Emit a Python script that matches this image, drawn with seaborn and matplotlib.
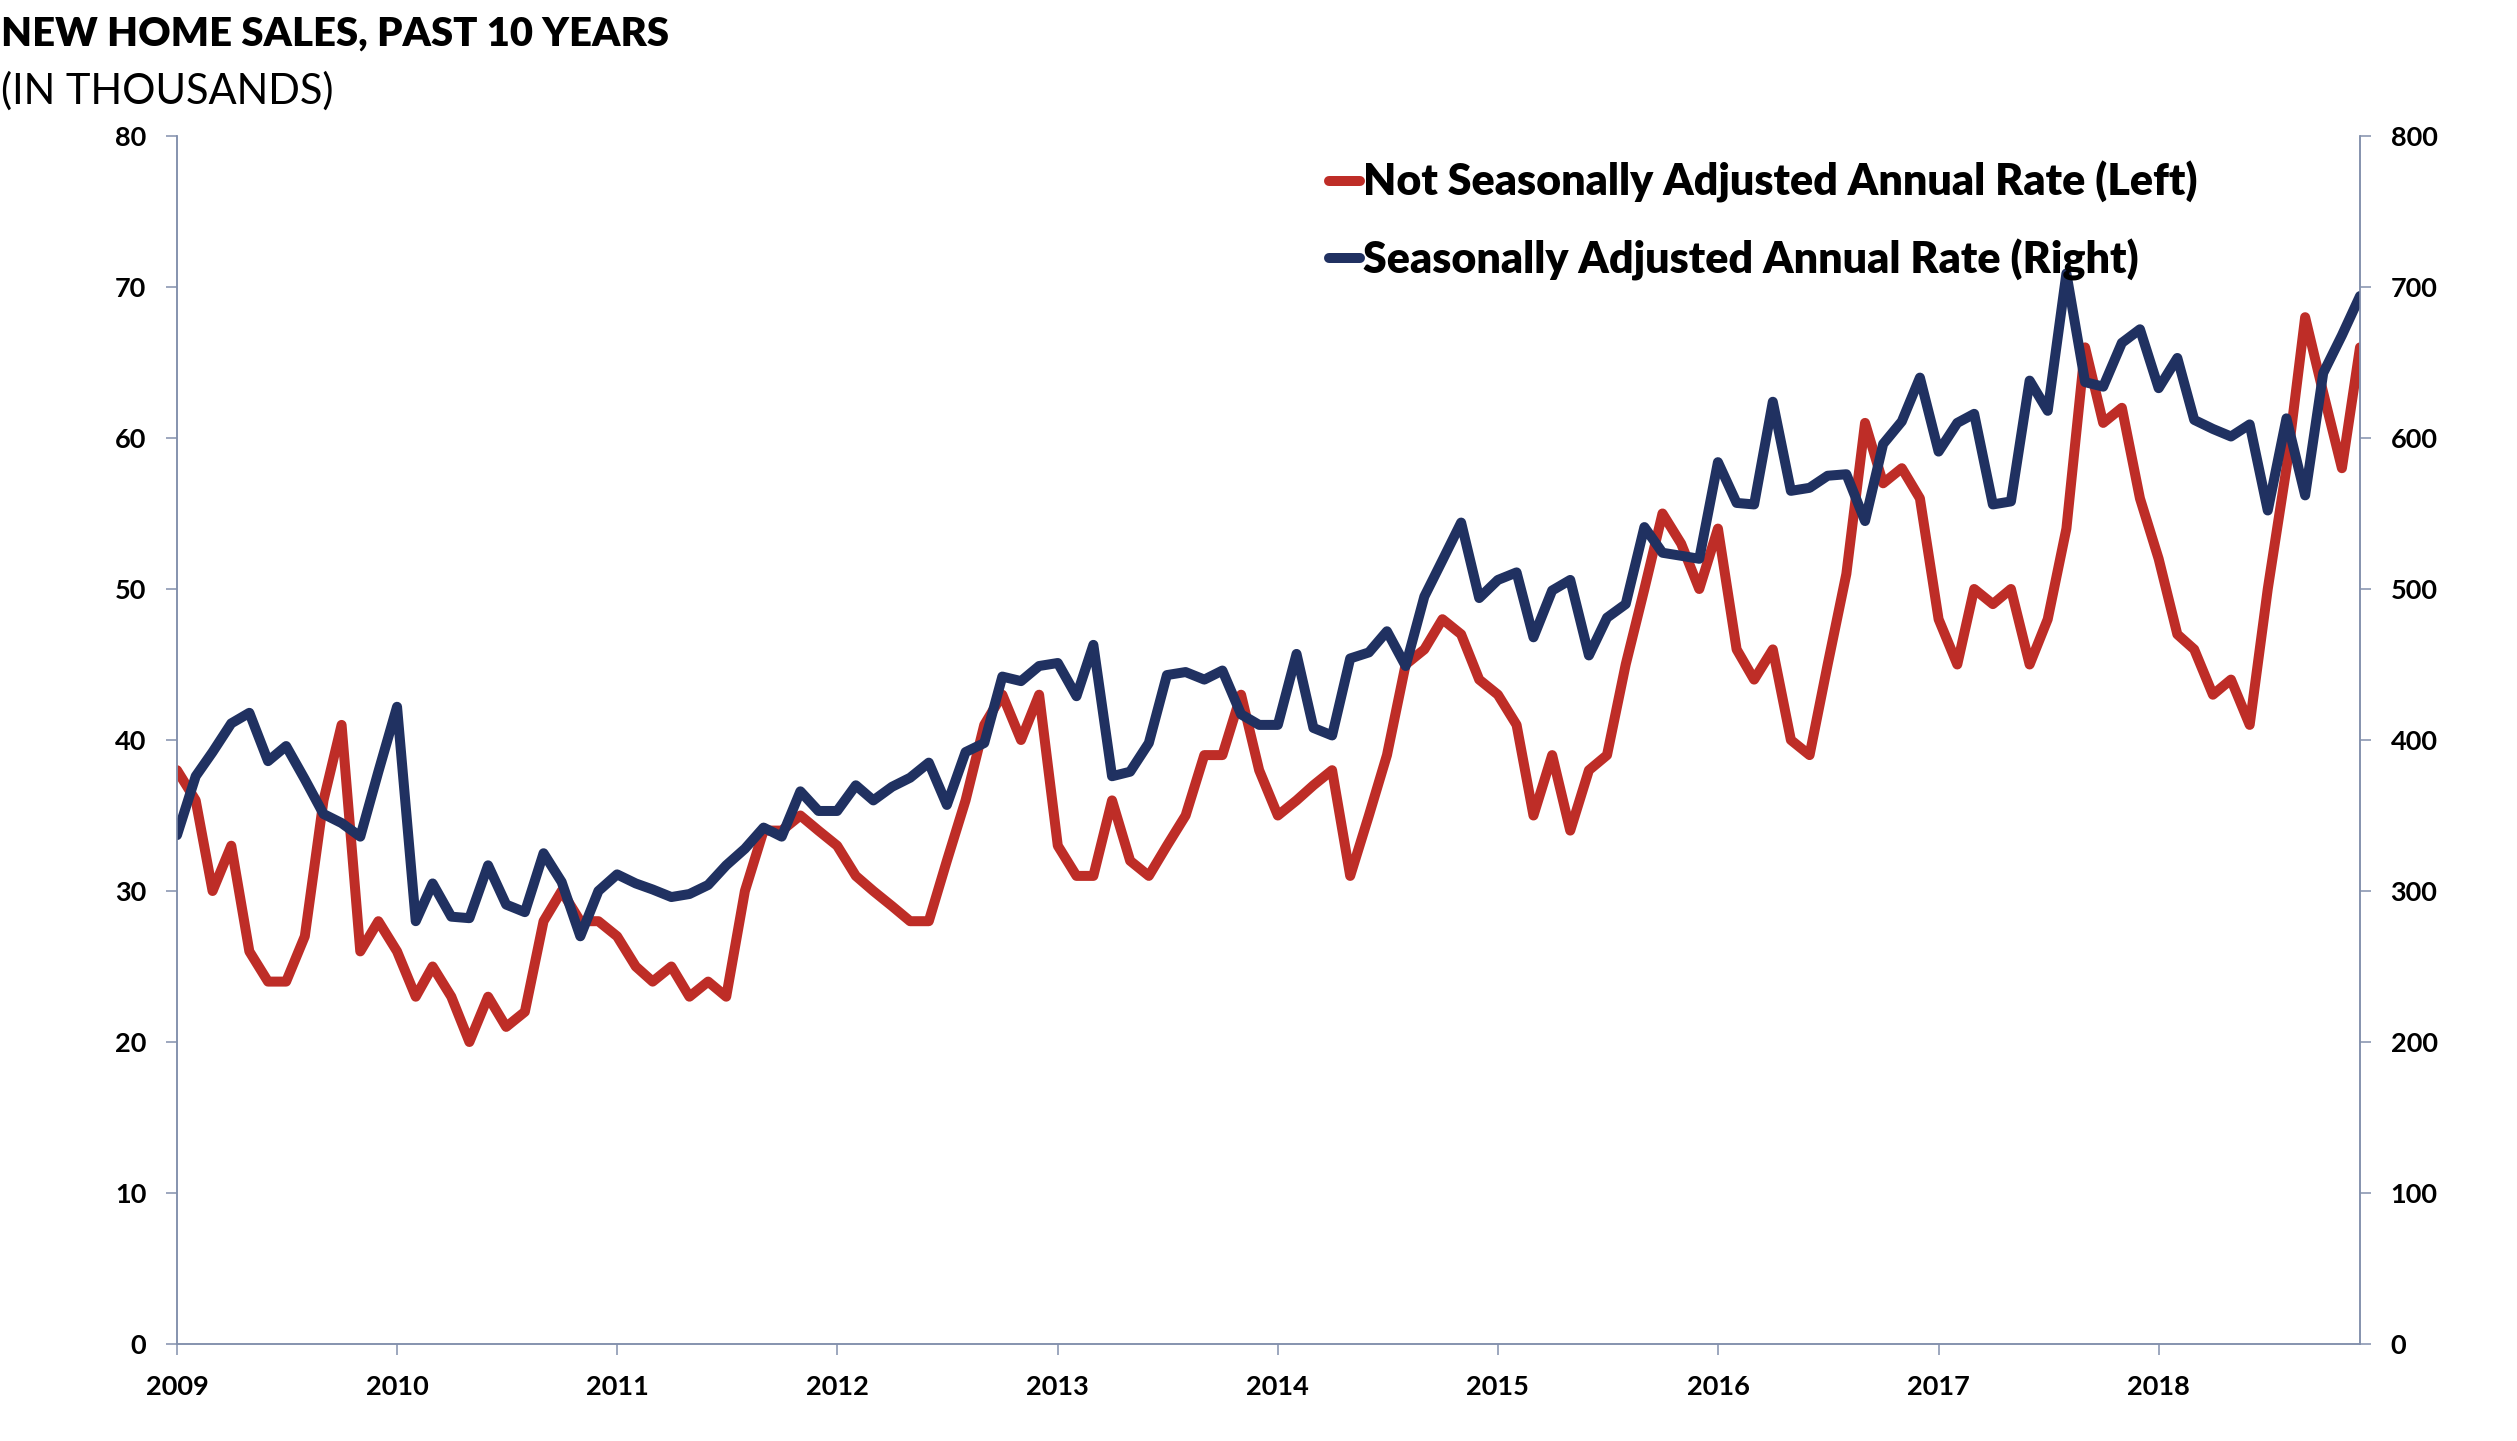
import matplotlib
matplotlib.use("Agg")
import matplotlib.pyplot as plt
import matplotlib.dates as mdates
from matplotlib.lines import Line2D
import pandas as pd
import seaborn as sns

# monthly data, Jan 2009 - Dec 2018
months = pd.date_range("2009-01-01", "2018-12-01", freq="MS")

# not seasonally adjusted, thousands (left axis)
nsa_left = [
    38, 36, 30, 33, 26, 24, 24, 27, 36, 41, 26, 28,
    26, 23, 25, 23, 20, 23, 21, 22, 28, 30, 28, 28,
    27, 25, 24, 25, 23, 24, 23, 30, 34, 34, 35, 34,
    33, 31, 30, 29, 28, 28, 32, 36, 41, 43, 40, 43,
    33, 31, 31, 36, 32, 31, 33, 35, 39, 39, 43, 38,
    35, 36, 37, 38, 31, 35, 39, 45, 46, 48, 47, 44,
    43, 41, 35, 39, 34, 38, 39, 45, 50, 55, 53, 50,
    54, 46, 44, 46, 40, 39, 45, 51, 61, 57, 58, 56,
    48, 45, 50, 49, 50, 45, 48, 54, 66, 61, 62, 56,
    52, 47, 46, 43, 44, 41, 50, 58, 68, 63, 58, 66,
]

# seasonally adjusted annual rate, thousands (right axis)
sa_right = [
    337, 376, 392, 411, 418, 386, 396, 374, 351, 345, 336, 379,
    422, 280, 305, 283, 282, 317, 291, 286, 325, 306, 270, 300,
    311, 305, 301, 296, 298, 304, 317, 328, 342, 336, 366, 353,
    353, 370, 360, 369, 375, 385, 357, 392, 398, 442, 439, 449,
    451, 429, 463, 376, 379, 398, 443, 445, 440, 446, 417, 410,
    410, 457, 408, 403, 454, 458, 472, 449, 495, 519, 544, 494,
    506, 511, 468, 499, 506, 456, 481, 490, 541, 524, 522, 520,
    584, 557, 556, 624, 565, 567, 575, 576, 545, 596, 611, 640,
    591, 610, 616, 556, 558, 638, 618, 709, 637, 634, 663, 672,
    633, 653, 612, 606, 601, 609, 552, 613, 562, 643, 668, 694,
]

left_ticks = list(range(0, 90, 10))
right_ticks = list(range(0, 900, 100))
labels = ["Not Seasonally Adjusted Annual Rate (Left)",
          "Seasonally Adjusted Annual Rate (Right)"]

df = pd.DataFrame({"month": months, "nsa": nsa_left, "sa": sa_right})

sns.set_theme(style="white")
plt.rcParams["font.family"] = ["Lato", "DejaVu Sans"]
plt.rcParams["font.weight"] = "bold"
plt.rcParams["text.color"] = "black"

RED = "#BE2D27"
NAVY = "#203161"
AXC = "#8290AC"

W, H = 2517, 1441
fig = plt.figure(figsize=(W / 100, H / 100), dpi=100)
ax = fig.add_axes([177 / W, 1 - 1344 / H, (2360 - 177) / W, (1344 - 136) / H])
ax2 = ax.twinx()

sns.lineplot(data=df, x="month", y="nsa", ax=ax, color=RED, linewidth=7.2,
             legend=False, solid_joinstyle="round")
sns.lineplot(data=df, x="month", y="sa", ax=ax2, color=NAVY, linewidth=7.2,
             legend=False, solid_joinstyle="round")

ax.set_xlim(months[0], months[-1])
ax.set_ylim(0, 80)
ax.set_yticks(left_ticks)
ax2.set_ylim(0, 800)
ax2.set_yticks(right_ticks)
ax.xaxis.set_major_locator(mdates.YearLocator())
ax.xaxis.set_major_formatter(mdates.DateFormatter("%Y"))
ax.set_xlabel("")
ax.set_ylabel("")
ax2.set_ylabel("")

for a in (ax, ax2):
    a.spines["top"].set_visible(False)
    for s in ("left", "right", "bottom"):
        a.spines[s].set_color(AXC)
        a.spines[s].set_linewidth(1.1)
    a.tick_params(direction="out", length=8, width=1.1, color=AXC,
                  labelsize=19.5, labelcolor="black", pad=14)
ax.tick_params(axis="x", bottom=True)
ax.tick_params(axis="y", left=True, right=False)
ax2.tick_params(axis="y", right=True, left=False)

fig.text(1 / W, 1 - 46 / H, "NEW HOME SALES, PAST 10 YEARS",
         fontsize=28.8, fontweight="heavy", va="baseline", ha="left")
fig.text(1 / W, 1 - 104 / H, "(IN THOUSANDS)",
         fontsize=30, fontweight="normal", va="baseline", ha="left")

handles = [Line2D([], [], color=RED, linewidth=7.2, solid_capstyle="round"),
           Line2D([], [], color=NAVY, linewidth=7.2, solid_capstyle="round")]
fig.legend(handles, labels, loc="upper left",
           bbox_to_anchor=(1329 / W, 1 - 161 / H), frameon=False,
           prop={"weight": "heavy", "size": 31}, handlelength=0.73,
           handletextpad=0.05, labelspacing=0.82, borderpad=0,
           borderaxespad=0)

fig.savefig("out.png", dpi=100)
